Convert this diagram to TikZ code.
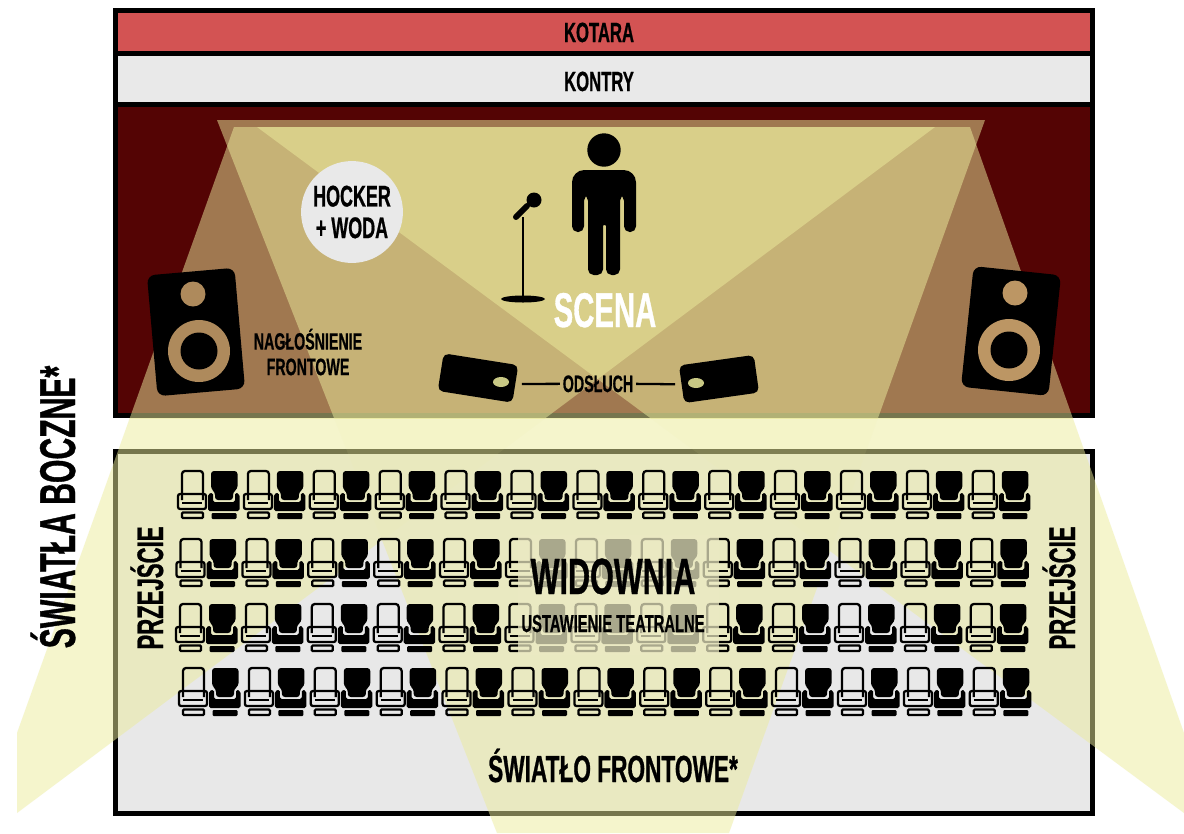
\documentclass[tikz,border=0pt]{standalone}
\usepackage{fontspec}
\setmainfont{Liberation Sans}[FakeStretch=0.6, BoldFeatures={FakeBold=0.7}]
\usepackage{tikz}
\usepackage{xcolor}
\usetikzlibrary{positioning,shapes.geometric,calc}
\definecolor{curtain}{HTML}{D35353}
\definecolor{backing}{HTML}{E9E9E9}
\definecolor{floorgrey}{HTML}{E8E8E8}
\definecolor{stagered}{HTML}{540404}
\definecolor{beamcol}{HTML}{ECEC9C}
\definecolor{holecol}{HTML}{AE8A5C}
\definecolor{holecolR}{HTML}{BC9664}
\definecolor{washcol}{HTML}{EBE9C3}
\newcommand{\beamC}{(217,120) -- (985,120) -- (729,833) -- (497,833) -- cycle}
\newcommand{\beamL}{(234,127) -- (935,127) -- (17,813) -- (17,733) -- cycle}
\newcommand{\beamR}{(970,127) -- (257,127) -- (1184,813) -- (1184,733) -- cycle}
\tikzset{
  seatopen/.pic={
    \draw[line width=1.3pt, rounded corners=1.7pt] (5,29) -- (5,0) -- (26,0) -- (26,29);
    \draw[line width=1.3pt, rounded corners=1.2pt] (1,23) rectangle (29,38);
    \draw[line width=1.3pt] (5,32) -- (25,32);
    \draw[line width=1.3pt, rounded corners=.6pt] (5,41.5) rectangle (26,47);
  },
  seatfull/.pic={
    \fill[rounded corners=1.7pt] (3,0) -- (29.5,0) -- (29.5,18) -- (25,21) -- (25,29) -- (7,29) -- (7,21) -- (3,18) -- cycle;
    \fill[rounded corners=1pt] (0,23) -- (5,21.5) -- (5,31) -- (27,31) -- (27,21.5) -- (31.5,23) -- (31.5,40) -- (0,40) -- cycle;
    \fill[rounded corners=.6pt] (3.5,42) rectangle (28.5,48);
  }
}
\begin{document}
\begin{tikzpicture}[
          x=0.02cm, y=-0.02cm,
          lbl/.style={font=\fontsize{#1}{#1}\selectfont\bfseries, inner sep=0pt, text=black},
          frame/.style={draw=black, line width=2.85pt},
          beam/.style={fill=beamcol, fill opacity=0.5},
          speaker/.style={fill=black, rounded corners=4.5pt, minimum width=50pt, minimum height=69pt, inner sep=0pt},
          monitor/.style={fill=black, rounded corners=3pt, minimum width=43pt, minimum height=21.6pt, inner sep=0pt},
          wire/.style={line width=1.3pt, shorten <=3.5pt, shorten >=1.5pt}
      ]
        \useasboundingbox (0,0) rectangle (1184,833);
        \fill[white] (0,0) rectangle (1184,833);
        \draw[frame, fill=curtain] (115.5,10.5) rectangle (1092,53);
        \draw[frame, fill=backing] (115.5,53) rectangle (1092,104.5);
        \draw[frame, fill=stagered] (115.5,104.5) rectangle (1092,415.5);
        \draw[frame, fill=floorgrey] (115.5,451) rectangle (1092,813);
        \begin{scope}
          \clip (0,0) rectangle (1184,418);
          \fill[beam] \beamC;
          \fill[beam] \beamL;
          \fill[beam] \beamR;
        \end{scope}
        \begin{scope}
          \clip (0,418) rectangle (1184,833);
          \begin{scope}[transparency group, opacity=0.46]
            \fill[beamcol] \beamC;
            \fill[beamcol] \beamL;
            \fill[beamcol] \beamR;
          \end{scope}
          \fill[beam, fill opacity=0.08] \beamC;
          \fill[beam, fill opacity=0.08] \beamL;
          \fill[beam, fill opacity=0.08] \beamR;
        \end{scope}
        \foreach \rowy/\rowx in {471/177,539/175.5,604/175,668/178} {
          \foreach \k in {0,...,12} {
            \pic at ({\rowx+65.9*\k},\rowy) {seatopen};
            \pic at ({\rowx+31+65.9*\k},\rowy) {seatfull};
          }
        }
        \fill[washcol, fill opacity=0.72] (518,535) rectangle (719,655);
        \node[lbl=15.8, anchor=base] (kotara) at (599,42) {KOTARA};
        \node[lbl=15.8, anchor=base] (kontry) at (599,91) {KONTRY};
        \node[circle, fill=backing, minimum size=58pt, inner sep=0pt] (hocker) at (352,212) {};
        \node[lbl=17, align=center] (hockertxt) at (hocker) {HOCKER\\[1pt]+ WODA};
        \fill (604,150) circle (16.7);
        \fill[rounded corners=3.2pt] (572,232) [rounded corners=7pt] -- (572,170) -- (636,170) [rounded corners=3.2pt] -- (636,232) -- (624,232) -- (624,195) -- (620,195) -- (620,275) -- (606,275) [rounded corners=.5pt] -- (606,225) -- (603,225) [rounded corners=3.2pt] -- (603,275) -- (588,275) -- (588,195) -- (584,195) -- (584,232) -- cycle;
        \draw[line width=1.7pt] (523,217) -- (523,298);
        \fill (523,299) ellipse (22 and 3.5);
        \fill (534,200) circle (7.5);
        \draw[line width=3.4pt, line cap=round] (527,206) -- (516,217);
        \node[lbl=27.8, anchor=base, text=white] (scena) at (605,327) {SCENA};
        \node[speaker, rotate=5] (spkL) at (196,332) {};
        \fill[holecol] (193,294) circle (12.5);
        \fill[holecol] (199,351) circle (31);
        \fill (199,351) circle (18.5);
        \node[speaker, rotate=-6] (spkR) at (1011,331) {};
        \fill[holecolR] (1015,293) circle (12.5);
        \fill[holecolR] (1009,350) circle (31);
        \fill (1009,350) circle (18.5);
        \node[lbl=13.5, align=center] (naglo) at (308,352) {NAGŁOŚNIENIE\\[1pt]FRONTOWE};
        \node[lbl=13.5, anchor=base] (odsluch) at (598,392) {ODSŁUCH};
        \node[monitor, rotate=-9] (monL) at (478,378) {};
        \node[monitor, rotate=8] (monR) at (719,379) {};
        \fill[beamcol!85!black] (501,382) ellipse (8 and 5);
        \fill[beamcol!85!black] (696,383) ellipse (8 and 5);
        \draw[wire] (monL.east) -- (odsluch.west);
        \draw[wire] (monR.west) -- (odsluch.east);
        \node[lbl=29, anchor=base] (widownia) at (613,594) {WIDOWNIA};
        \node[lbl=14, anchor=base] (ustaw) at (613,632) {USTAWIENIE TEATRALNE};
        \node[lbl=21.5, anchor=base] (front) at (613,782) {ŚWIATŁO FRONTOWE*};
        \node[lbl=21, anchor=base, rotate=90] (przL) at (163,588) {PRZEJŚCIE};
        \node[lbl=21, anchor=base, rotate=90] (przR) at (1075,588) {PRZEJŚCIE};
        \node[lbl=28.6, anchor=base, rotate=90] (boczne) at (75,507) {ŚWIATŁA BOCZNE*};
      \end{tikzpicture}
\end{document}
